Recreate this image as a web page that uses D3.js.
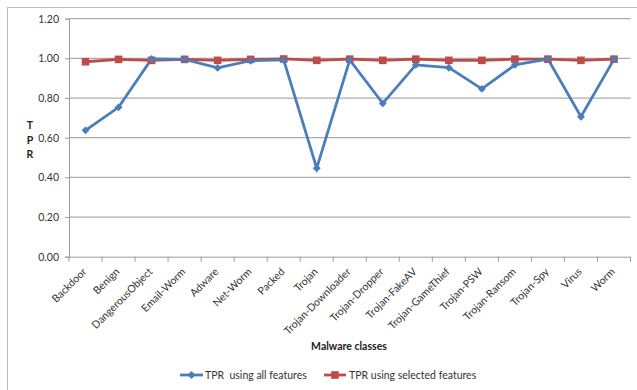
<!DOCTYPE html>
<html><head><meta charset="utf-8">
<script src="https://cdn.jsdelivr.net/npm/d3@7"></script>
<style>
body{margin:0;background:#fff;}
text{font-family:Lato,"Open Sans",sans-serif;white-space:pre;}
</style></head>
<body><svg id="c" width="637" height="390"></svg>
<script>
const categories = ["Backdoor","Benign","DangerousObject","Email-Worm","Adware","Net-Worm","Packed","Trojan","Trojan-Downloader","Trojan-Dropper","Trojan-FakeAV","Trojan-GameThief","Trojan-PSW","Trojan-Ransom","Trojan-Spy","Virus","Worm"];
const tprAll = [0.637,0.753,0.997,0.995,0.952,0.988,0.992,0.446,0.992,0.773,0.967,0.953,0.846,0.967,0.996,0.706,0.995];
const tprSelected = [0.983,0.995,0.990,0.995,0.990,0.995,0.997,0.990,0.996,0.990,0.996,0.990,0.990,0.996,0.996,0.990,0.996];
const yTicks = [0,0.2,0.4,0.6,0.8,1.0,1.2];
const seriesNames = ["TPR  using all features","TPR using selected features"];

const svg = d3.select("#c");
svg.append("rect").attr("x",7.5).attr("y",7.5).attr("width",640).attr("height",400)
  .attr("fill","none").attr("stroke","#bdbdbd");

const L=69, R=630.5, T=18.7, B=256.7;
const x = d3.scaleBand().domain(categories).range([L,R]);
const y = d3.scaleLinear().domain([0,1.2]).range([B,T]);

// gridlines
svg.append("g").selectAll("line").data(yTicks.filter(d=>d>0)).join("line")
  .attr("x1",L).attr("x2",R).attr("y1",d=>y(d)).attr("y2",d=>y(d))
  .attr("stroke","#acacac").attr("stroke-width",1.2);

// y axis
const ya = svg.append("g").attr("transform",`translate(${L},0)`)
  .call(d3.axisLeft(y).tickValues(yTicks).tickFormat(d3.format(".2f")).tickSize(4).tickPadding(6));
ya.select(".domain").attr("stroke","#9a9a9a");
ya.selectAll(".tick line").attr("stroke","#9a9a9a");
ya.selectAll(".tick text").attr("font-size",10.5).attr("fill","#333").attr("font-family","Lato");

// x axis
const xa = svg.append("g").attr("transform",`translate(0,${B})`)
  .call(d3.axisBottom(x).tickSize(0).tickPadding(0));
xa.select(".domain").attr("stroke","#9a9a9a");
xa.selectAll(".tick text").remove();
svg.append("g").selectAll("line").data(d3.range(categories.length+1)).join("line")
  .attr("x1",i=>L+i*x.step()).attr("x2",i=>L+i*x.step())
  .attr("y1",B).attr("y2",B+5).attr("stroke","#9a9a9a");
svg.append("g").selectAll("text").data(categories).join("text")
  .attr("transform",d=>`translate(${x(d)+x.bandwidth()/2-1},${B+13}) rotate(-45)`)
  .attr("text-anchor","end").attr("dy","0.35em")
  .attr("font-size",10.5).attr("fill","#333").text(d=>d);

// TPR label
["T","P","R"].forEach((c,i)=>{
  svg.append("text").attr("x",30).attr("y",129+i*14.5).attr("text-anchor","middle")
    .attr("font-size",10.5).attr("font-weight","bold").attr("fill","#222").text(c);
});
svg.append("text").attr("x",349).attr("y",350).attr("text-anchor","middle")
  .attr("font-size",10.5).attr("font-weight","bold").attr("fill","#222").text("Malware classes");

const cx = d=>x(d)+x.bandwidth()/2;
const line = d3.line().x((d,i)=>cx(categories[i])).y(d=>y(d));
const blue="#4a7ebb", red="#be4b48";
svg.append("path").datum(tprSelected).attr("d",line).attr("fill","none").attr("stroke",red).attr("stroke-width",2.8);
svg.append("path").datum(tprAll).attr("d",line).attr("fill","none").attr("stroke",blue).attr("stroke-width",2.8);
svg.append("g").selectAll("rect").data(tprSelected).join("rect")
  .attr("x",(d,i)=>cx(categories[i])-3.8).attr("y",d=>y(d)-3.8).attr("width",7.6).attr("height",7.6).attr("fill",red);
const diamond = d3.symbol().type(d3.symbolDiamond2).size(40);
svg.append("g").selectAll("path").data(tprAll).join("path")
  .attr("transform",(d,i)=>`translate(${cx(categories[i])},${y(d)})`).attr("d",diamond).attr("fill",blue);

// legend
const lg = svg.append("g");
lg.append("line").attr("x1",180).attr("x2",203).attr("y1",375).attr("y2",375).attr("stroke",blue).attr("stroke-width",2.8);
lg.append("path").attr("transform","translate(191.5,375)").attr("d",diamond).attr("fill",blue);
lg.append("text").attr("x",205).attr("y",379).attr("font-size",10.5).attr("fill","#333").text(seriesNames[0]);
lg.append("line").attr("x1",324).attr("x2",346).attr("y1",375).attr("y2",375).attr("stroke",red).attr("stroke-width",2.8);
lg.append("rect").attr("x",331.2).attr("y",371.2).attr("width",7.6).attr("height",7.6).attr("fill",red);
lg.append("text").attr("x",349).attr("y",379).attr("font-size",10.5).attr("fill","#333").text(seriesNames[1]);
</script></body></html>
